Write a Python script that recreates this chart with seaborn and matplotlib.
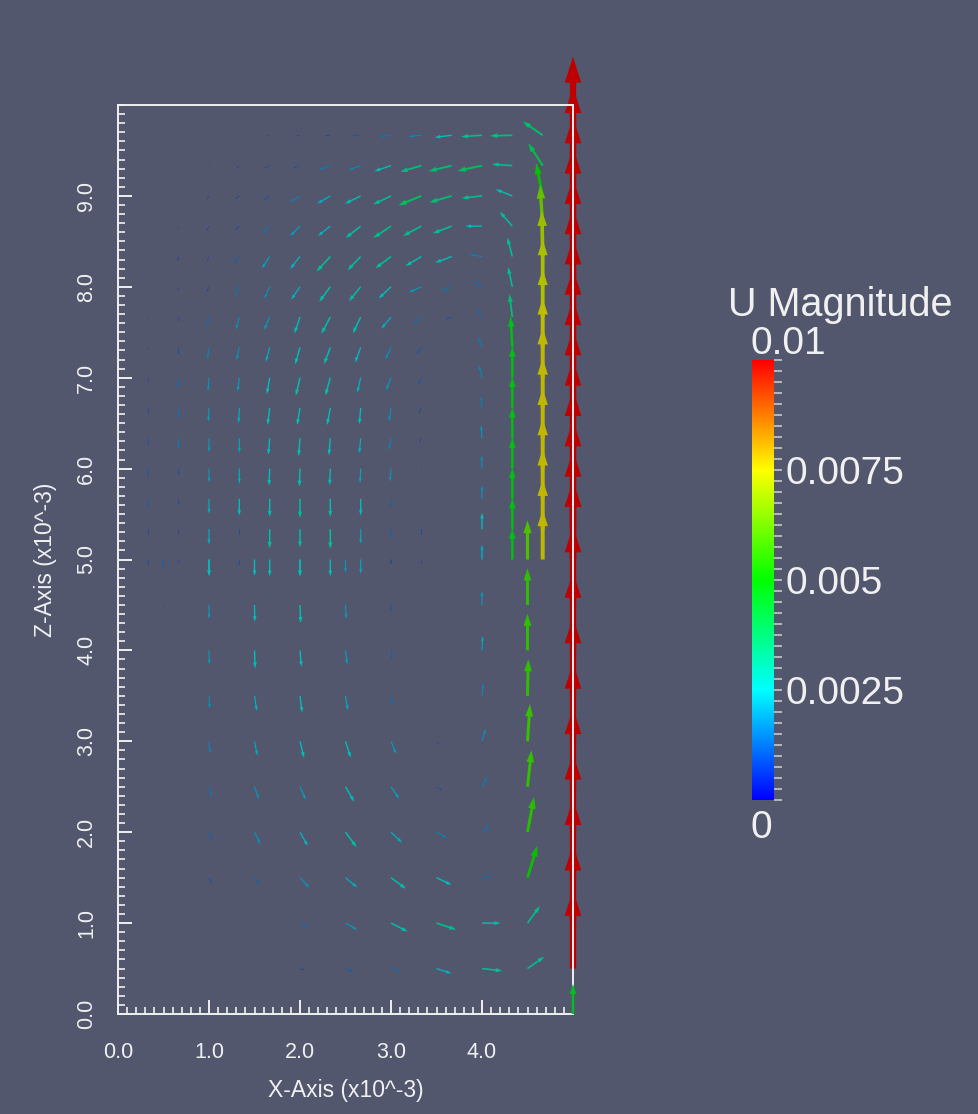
import numpy as np
import matplotlib
matplotlib.use("Agg")
import matplotlib.pyplot as plt
import seaborn as sns
from matplotlib.ticker import MultipleLocator
from matplotlib.colors import Normalize

# --- velocity field U (x, z components), values in 1e-3 m/s ---------------
# upper block: fine mesh (1/3 spacing), rows listed top -> bottom
X_UPPER = [0.333, 0.667, 1.0, 1.333, 1.667, 2.0, 2.333, 2.667,
           3.0, 3.333, 3.667, 4.0, 4.333, 4.667, 5.0]
Z_UPPER = [9.667, 9.333, 9.0, 8.667, 8.333, 8.0, 7.667, 7.333,
           7.0, 6.667, 6.333, 6.0, 5.667, 5.333, 5.0]
U_UPPER = [
    [0, -0.05, -0.1, -0.21, -0.37, -0.53, -0.75, -1.2, -1.6, -1.9, -2.6, -3.2, -3.4, -3.0, 0],
    [0, -0.1, -0.21, -0.43, -0.85, -1.06, -1.6, -1.8, -2.55, -3.2, -3.5, -3.75, -3.1, -2.2, 0],
    [0, -0.1, -0.26, -0.64, -0.85, -1.5, -2.0, -2.4, -2.7, -3.5, -3.4, -3.1, -2.55, -1.0, 0],
    [0, 0, -0.32, -0.64, -1.2, -1.5, -1.9, -2.3, -2.7, -2.8, -2.9, -2.5, -1.9, -0.4, 0],
    [0, -0.21, -0.26, -0.85, -1.2, -1.5, -2.1, -2.0, -2.4, -2.4, -2.5, -1.8, -0.75, -0.12, 0],
    [0, 0, -0.32, -0.71, -0.8, -1.36, -1.7, -1.8, -1.9, -1.9, -1.5, -1.3, -0.64, 0, 0],
    [0, 0, -0.32, -0.53, -0.85, -0.85, -1.36, -1.2, -1.5, -1.2, -0.85, -0.8, -0.43, 0, 0],
    [0, 0, -0.26, -0.43, -0.59, -0.75, -0.94, -0.85, -0.85, -0.75, -0.1, -0.59, -0.25, 0, 0],
    [0, 0, -0.16, -0.26, -0.43, -0.64, -0.75, -0.53, -0.75, -0.53, 0, -0.43, 0, 0, 0],
    [0, 0, -0.1, -0.1, -0.32, -0.43, -0.48, -0.21, -0.32, -0.32, 0, -0.16, 0, 0, 0],
    [0, 0, 0, 0, -0.21, -0.21, -0.21, -0.21, -0.32, -0.21, 0, -0.16, 0, 0, 0],
    [0, 0, 0, 0, -0.1, -0.1, -0.1, -0.1, -0.16, 0, 0, -0.05, 0, 0, 0],
    [0, 0, 0, 0, 0, 0, 0, 0, -0.1, 0, 0, 0, 0, 0, 0],
    [0, 0, 0, 0, 0, 0, 0, 0, 0, 0, 0, 0, 0, 0, 0],
    [0, 0, 0, 0, 0, 0, 0, 0, 0, 0, 0, 0, 0, 0, 0],
]
W_UPPER = [
    [0, 0, 0, 0, 0, 0, 0, 0, -0.21, -0.21, -0.32, -0.21, -0.1, 2.1, 12],
    [0, -0.05, -0.21, -0.48, -0.43, -0.43, -0.59, -0.64, -0.85, -0.94, -0.85, -0.8, 0.21, 3.4, 12],
    [0, -0.16, -0.53, -0.48, -0.64, -0.94, -1.2, -1.2, -1.3, -1.45, -1.0, -0.35, 1.0, 5.0, 12],
    [-0.05, -0.37, -0.64, -0.64, -1.1, -1.5, -1.5, -1.8, -1.8, -1.5, -1.1, 0, 2.2, 6.3, 12],
    [-0.1, -0.64, -0.64, -1.06, -1.8, -1.9, -2.3, -2.1, -1.8, -1.45, -0.94, 0.32, 2.9, 7.0, 12],
    [-0.21, -0.53, -0.75, -1.45, -1.8, -1.95, -2.3, -2.2, -1.8, -0.85, -0.64, 0.8, 3.0, 7.2, 12],
    [-0.32, -0.64, -1.5, -1.9, -1.95, -2.5, -2.55, -2.5, -1.8, -1.06, -0.32, 1.3, 3.5, 7.3, 12],
    [-0.43, -1.06, -1.8, -1.95, -2.2, -2.6, -2.55, -2.3, -1.8, -0.94, -0.1, 1.6, 4.75, 7.5, 12],
    [-0.64, -1.5, -2.0, -2.1, -2.5, -2.75, -2.75, -2.3, -1.9, -1.06, -0.1, 1.8, 4.75, 7.6, 12],
    [-0.85, -1.6, -2.1, -2.3, -2.6, -2.6, -2.6, -2.5, -2.0, -0.75, 0.1, 1.7, 4.75, 7.6, 12],
    [-1.06, -1.7, -2.1, -2.2, -2.5, -2.75, -2.6, -2.3, -1.8, -0.64, 0.1, 2.0, 4.75, 7.6, 12],
    [-1.2, -0.94, -2.1, -2.3, -2.6, -2.75, -2.55, -2.2, -2.0, -0.32, 0.1, 2.0, 4.75, 7.6, 12],
    [-1.3, -0.94, -2.3, -2.55, -2.75, -2.9, -2.75, -2.55, -1.36, 0, 0.1, 2.0, 4.75, 7.6, 12],
    [-0.85, -0.64, -2.3, -0.85, -2.9, -2.75, -3.0, -2.2, -1.36, -0.94, 0, 2.5, 4.75, 7.6, 12],
    [-0.85, -0.53, -2.5, -0.85, -2.55, -2.55, -2.55, -2.2, -0.64, -0.64, 0, 2.2, 4.75, 7.6, 12],
]

# lower block: coarse mesh (0.5 spacing), rows listed top -> bottom
X_LOWER = [0.5, 1.0, 1.5, 2.0, 2.5, 3.0, 3.5, 4.0, 4.5, 5.0]
Z_LOWER = [5.0, 4.5, 4.0, 3.5, 3.0, 2.5, 2.0, 1.5, 1.0, 0.5]
U_LOWER = [
    [0, 0, 0, 0, 0, 0, 0, 0, 0, 0],
    [0, 0, 0.05, 0.1, 0.1, 0, 0, 0, 0, 0],
    [0, 0.05, 0.1, 0.21, 0.26, 0.16, 0, 0.1, 0, 0],
    [0, 0.1, 0.35, 0.32, 0.35, 0.44, 0, 0.18, 0.12, 0],
    [0, 0.21, 0.44, 0.61, 0.8, 0.8, 0.43, 0.53, 0.38, 0],
    [0, 0.44, 0.66, 0.85, 1.33, 1.24, 0.8, 0.88, 0.62, 0],
    [0, 0.53, 0.88, 1.2, 1.7, 1.7, 1.6, 1.2, 1.0, 0],
    [0, 0.43, 0.75, 1.4, 1.8, 2.3, 2.3, 1.5, 1.5, 0],
    [0.05, 0.16, 0.21, 1.2, 1.8, 2.55, 3.0, 2.8, 1.9, 0],
    [0.05, 0.1, 0.16, 0.67, 1.24, 1.46, 2.3, 3.1, 2.55, 0],
]
W_LOWER = [
    [-1.36, -2.5, -2.5, -2.55, -2.0, -0.64, -0.1, 2.2, 6.0, 12],
    [-0.32, -2.1, -2.55, -2.75, -2.1, -0.94, -0.1, 2.1, 5.6, 12],
    [-0.1, -2.1, -2.75, -2.5, -2.1, -1.3, 0, 2.2, 5.6, 12],
    [-0.1, -1.95, -2.3, -2.55, -2.2, -1.45, -0.1, 1.9, 5.6, 12],
    [-0.21, -1.8, -2.2, -2.5, -2.5, -1.95, -0.53, 1.9, 5.7, 12],
    [-0.16, -1.6, -1.9, -1.95, -2.3, -1.8, -0.53, 1.5, 5.6, 12],
    [-0.1, -1.3, -1.8, -2.1, -2.3, -1.6, -0.88, 1.1, 5.4, 12],
    [-0.05, -0.85, -1.1, -1.5, -1.5, -1.7, -1.1, 0.3, 4.9, 12],
    [-0.02, -0.05, -0.05, -0.8, -1.0, -1.3, -1.0, 0, 2.6, 12],
    [0, 0, -0.05, -0.22, -0.44, -0.44, -0.75, -0.35, 1.8, 12],
]

# bottom right corner node
X_CORNER = [5.0]
Z_CORNER = [0.0]
U_CORNER = [0.0]
W_CORNER = [4.6]

X_TICKS = [0, 1, 2, 3, 4]
X_TICKLABELS = ["0.0", "1.0", "2.0", "3.0", "4.0"]
Y_TICKS = [0, 1, 2, 3, 4, 5, 6, 7, 8, 9]
Y_TICKLABELS = ["0.0", "1.0", "2.0", "3.0", "4.0", "5.0", "6.0", "7.0", "8.0", "9.0"]
CBAR_TICKS = [0.0025, 0.005, 0.0075]
CBAR_TICKLABELS = ["0.0025", "0.005", "0.0075"]

BG = "#52576e"
FG = "#f0f0f0"
GLYPH_SCALE = 0.072   # glyph length (x1e-3 m) per 1e-3 m/s
SHADE = 0.75          # glyphs look darker than the lookup table (lighting)

sns.set_theme(style="ticks", rc={
    "figure.facecolor": BG,
    "axes.facecolor": BG,
    "savefig.facecolor": BG,
})
plt.rcParams["font.family"] = ["Liberation Sans", "DejaVu Sans"]

cmap = sns.blend_palette(["#0000ff", "#00ffff", "#00ff00", "#ffff00", "#ff0000"],
                         as_cmap=True)
norm = Normalize(vmin=0.0, vmax=0.01)

W_PX, H_PX = 979, 1114
fig = plt.figure(figsize=(W_PX / 100, H_PX / 100), dpi=100)
ax = fig.add_axes([118 / W_PX, 1 - 1014 / H_PX, 455 / W_PX, 909 / H_PX])
ax.set_xlim(0, 5)
ax.set_ylim(0, 10)


def draw_glyphs(xs, zs, us, ws, zorder=1):
    for i, z in enumerate(zs):
        for j, x in enumerate(xs):
            u, w = us[i][j], ws[i][j]
            mag = np.hypot(u, w)
            if mag < 0.05:
                continue
            length = mag * GLYPH_SCALE
            col = np.array(cmap(norm(mag * 1e-3)))[:3] * SHADE
            ax.arrow(x, z, u * GLYPH_SCALE, w * GLYPH_SCALE,
                     width=0.08 * length, head_width=0.21 * length,
                     head_length=0.33 * length, length_includes_head=True,
                     fc=col, ec="none", lw=0, clip_on=False, zorder=zorder)


draw_glyphs(X_UPPER, Z_UPPER, U_UPPER, W_UPPER)
draw_glyphs(X_LOWER, Z_LOWER, U_LOWER, W_LOWER)
# the corner glyph sits over the frame in the reference
draw_glyphs(X_CORNER, Z_CORNER, [U_CORNER], [W_CORNER], zorder=4)

for side in ["left", "bottom", "top", "right"]:
    ax.spines[side].set_color(FG)
    ax.spines[side].set_linewidth(1.4)
    ax.spines[side].set_zorder(3)

ax.set_xticks(X_TICKS)
ax.set_xticklabels(X_TICKLABELS)
ax.set_yticks(Y_TICKS)
ax.set_yticklabels(Y_TICKLABELS, rotation=90, va="center")
ax.xaxis.set_minor_locator(MultipleLocator(0.1))
ax.yaxis.set_minor_locator(MultipleLocator(0.1))
ax.tick_params(which="both", direction="in", colors=FG, top=False, right=False)
ax.tick_params(which="major", length=10, width=1.4, labelsize=15.5)
ax.tick_params(axis="x", which="major", pad=20)
ax.tick_params(axis="y", which="major", pad=15)
ax.tick_params(which="minor", length=5, width=1.2)

ax.set_xlabel("X-Axis (x10^-3)", fontsize=16.5, color=FG)
ax.xaxis.label.set_verticalalignment("center")
ax.xaxis.set_label_coords(0.5, (1014 - 1090) / 909)
ax.set_ylabel("Z-Axis (x10^-3)", fontsize=16.5, color=FG)
ax.yaxis.label.set_verticalalignment("center")
ax.yaxis.set_label_coords((46 - 118) / 455, 0.5)

# colour legend
cax = fig.add_axes([752 / W_PX, 1 - 800 / H_PX, 22 / W_PX, 440 / H_PX])
sm = plt.cm.ScalarMappable(norm=norm, cmap=cmap)
cbar = fig.colorbar(sm, cax=cax)
cbar.outline.set_visible(False)
cbar.set_ticks(CBAR_TICKS)
cbar.set_ticklabels(CBAR_TICKLABELS)
cax.yaxis.set_minor_locator(MultipleLocator(0.00025))
cax.tick_params(which="major", direction="inout", length=12, width=1.2,
                color="#c8c8c8", labelcolor=FG, labelsize=28, pad=2)
cax.tick_params(which="minor", direction="out", length=6, width=1.2,
                color="#c8c8c8")

fig.text(840 / W_PX, 1 - 305 / H_PX, "U Magnitude", color=FG, fontsize=28.5,
         ha="center", va="center")
fig.text(750 / W_PX, 1 - 344 / H_PX, "0.01", color=FG, fontsize=28,
         ha="left", va="center")
fig.text(750 / W_PX, 1 - 828 / H_PX, "0", color=FG, fontsize=28,
         ha="left", va="center")

fig.savefig("out.png", dpi=100, facecolor=BG)
plt.close(fig)
